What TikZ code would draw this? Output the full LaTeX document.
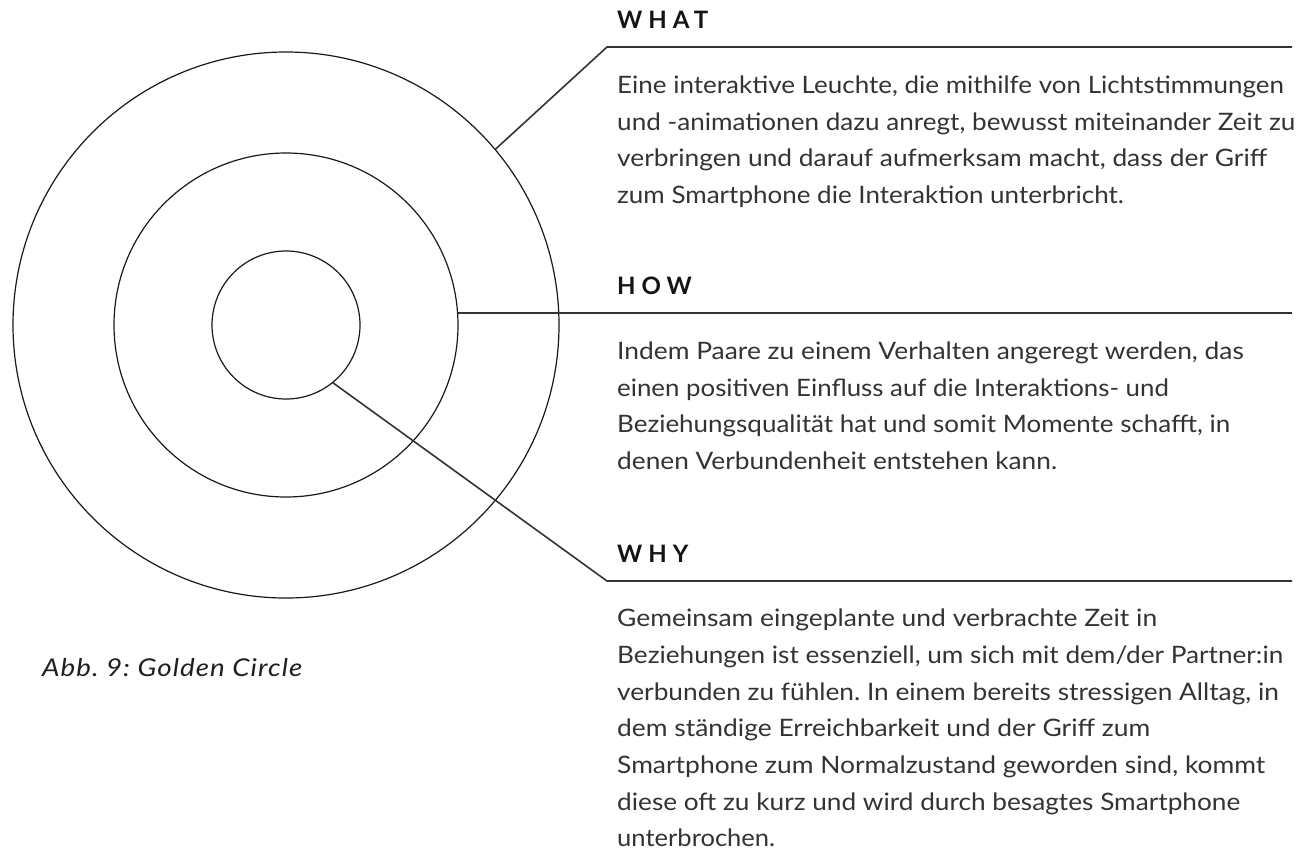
\documentclass[tikz,border=0pt]{standalone}
\usepackage{graphicx}
\usepackage{fontspec}
\setmainfont{Lato}
\frenchspacing
\newfontfamily\bodyfont{Lato}[FakeStretch=1.07]
\newfontfamily\headfont{Lato}[LetterSpace=25.0]
\newfontfamily\capfont{Lato}[FakeStretch=1.1,LetterSpace=4.0]
\newcommand{\fitline}[2]{\resizebox{#1pt}{\height}{#2}}
\tikzset{
  ring/.style={circle, draw=black!90, line width=1.2pt, inner sep=0pt, outer sep=0pt},
  leader/.style={draw=black!80, line width=1.6pt},
  heading/.style={anchor=base west, inner sep=0pt, text=black!92, font=\headfont\bfseries\fontsize{24}{28}\selectfont},
  body/.style={anchor=base west, inner sep=0pt, text=black!80, font=\bodyfont\fontsize{24}{36.7}\selectfont\frenchspacing},
  caption/.style={anchor=base west, inner sep=0pt, text=black!88, font=\capfont\itshape\fontsize{24.5}{28}\selectfont\frenchspacing}
}
\begin{document}
\begin{tikzpicture}[x=1pt,y=-1pt]
\useasboundingbox (0,0) rectangle (1301,855);
% circles
\node[ring, minimum size=546pt] (outer) at (286,325) {};
\node[ring, minimum size=344pt] (middle) at (286,325) {};
\node[ring, minimum size=148pt] (inner) at (286,325) {};
% leader coordinates
\coordinate (whatCorner) at (607,47);
\coordinate (whatEnd) at (1292,47);
\coordinate (howEnd) at (1292,312);
\coordinate (whyCorner) at (607,581);
\coordinate (whyEnd) at (1292,581);
% leaders
\draw[leader] (outer.40) -- (whatCorner) -- (whatEnd);
\draw[leader] (middle.4.3) -- (middle.4.3 -| howEnd);
\draw[leader] (inner.-51) -- (whyCorner) -- (whyEnd);
% headings
\node[heading] (whatHead) at (617,28.5) {WHAT};
\node[heading] (howHead) at (617,294) {HOW};
\node[heading] (whyHead) at (617,562) {WHY};
% body texts
\node[body] (whatText) at (617,93.5) {\begin{tabular}[t]{@{}l@{}}%
\fitline{666.7}{Eine interaktive Leuchte, die mithilfe von Lichtstimmungen}\\
\fitline{678}{und -animationen dazu anregt, bewusst miteinander Zeit zu}\\
\fitline{650}{verbringen und darauf aufmerksam macht, dass der Griff}\\
\fitline{506.7}{zum Smartphone die Interaktion unterbricht.}\end{tabular}};
\node[body] (howText) at (617,359.3) {\begin{tabular}[t]{@{}l@{}}%
\fitline{626.7}{Indem Paare zu einem Verhalten angeregt werden, das}\\
\fitline{551.7}{einen positiven Einfluss auf die Interaktions- und}\\
\fitline{613}{Beziehungsqualität hat und somit Momente schafft, in}\\
\fitline{440}{denen Verbundenheit entstehen kann.}\end{tabular}};
\node[body] (whyText) at (617,626.7) {\begin{tabular}[t]{@{}l@{}}%
\fitline{540}{Gemeinsam eingeplante und verbrachte Zeit in}\\
\fitline{666}{Beziehungen ist essenziell, um sich mit dem/der Partner:in}\\
\fitline{661.7}{verbunden zu fühlen. In einem bereits stressigen Alltag, in}\\
\fitline{533}{dem ständige Erreichbarkeit und der Griff zum}\\
\fitline{648}{Smartphone zum Normalzustand geworden sind, kommt}\\
\fitline{623}{diese oft zu kurz und wird durch besagtes Smartphone}\\
\fitline{158}{unterbrochen.}\end{tabular}};
% caption
\node[caption] (cap) at (42,676.7) {\fitline{260}{Abb. 9: Golden Circle}};
\end{tikzpicture}
\end{document}
